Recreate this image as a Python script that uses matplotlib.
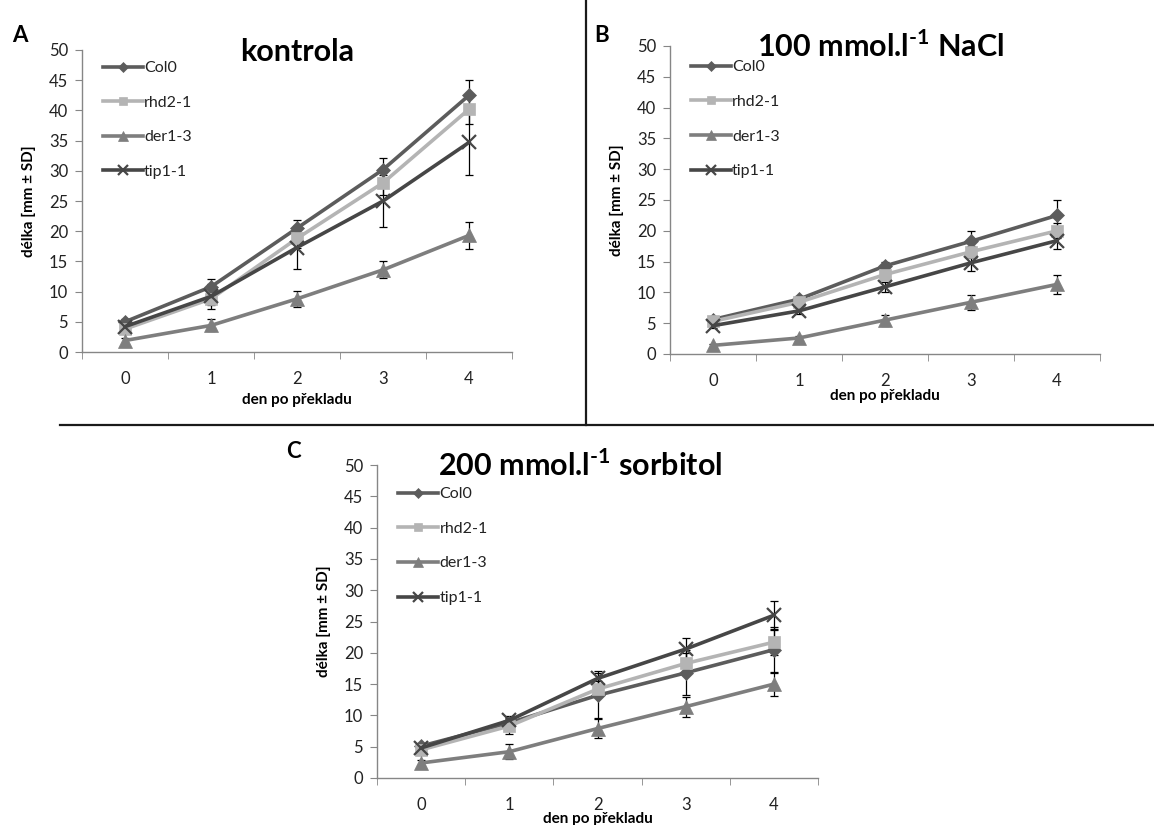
import matplotlib
matplotlib.use("Agg")
import matplotlib.pyplot as plt
import numpy as np

plt.rcParams['font.family'] = ['Lato', 'DejaVu Sans']
plt.rcParams['mathtext.fontset'] = 'custom'
plt.rcParams['mathtext.rm'] = 'Lato:bold'
plt.rcParams['mathtext.bf'] = 'Lato:bold'

days = [0, 1, 2, 3, 4]
day_labels = ['0', '1', '2', '3', '4']
series_names = ['Col0', 'rhd2-1', 'der1-3', 'tip1-1']

# kontrola
a_col0 = [5.0, 10.8, 20.5, 30.2, 42.5]
a_col0_sd = [0.5, 1.3, 1.4, 2.0, 2.6]
a_rhd2 = [3.8, 8.8, 18.8, 28.0, 40.2]
a_rhd2_sd = [0.5, 1.0, 1.5, 2.0, 2.5]
a_der1 = [1.9, 4.4, 8.8, 13.6, 19.3]
a_der1_sd = [0.5, 1.0, 1.3, 1.4, 2.3]
a_tip1 = [4.2, 9.2, 17.3, 25.0, 34.7]
a_tip1_sd = [0.5, 2.1, 3.6, 4.3, 5.4]

# 100 mmol NaCl
b_col0 = [5.6, 8.9, 14.3, 18.3, 22.5]
b_col0_sd = [0.4, 0.5, 0.7, 1.7, 2.5]
b_rhd2 = [5.3, 8.4, 12.9, 16.6, 20.0]
b_rhd2_sd = [0.4, 0.5, 0.8, 1.0, 1.2]
b_der1 = [1.4, 2.6, 5.5, 8.4, 11.3]
b_der1_sd = [0.3, 0.4, 0.9, 1.2, 1.5]
b_tip1 = [4.6, 7.0, 10.9, 14.8, 18.4]
b_tip1_sd = [0.3, 0.5, 0.8, 1.3, 1.3]

# 200 mmol sorbitol
c_col0 = [5.1, 8.8, 13.2, 16.8, 20.5]
c_col0_sd = [0.5, 0.8, 3.6, 3.6, 3.7]
c_rhd2 = [4.5, 8.3, 14.2, 18.3, 21.7]
c_rhd2_sd = [0.4, 1.2, 1.3, 1.7, 2.0]
c_der1 = [2.4, 4.2, 7.9, 11.4, 15.0]
c_der1_sd = [0.4, 1.2, 1.5, 1.6, 1.9]
c_tip1 = [4.8, 9.2, 15.9, 20.6, 26.0]
c_tip1_sd = [0.5, 0.7, 1.2, 1.7, 2.2]

colors = ['#5c5c5c', '#b4b4b4', '#7e7e7e', '#464646']
markers = ['D', 's', '^', 'x']
msizes = [7, 8, 9.5, 10]

W, H = 1154, 825
fig = plt.figure(figsize=(W / 100, H / 100), dpi=100)


def px_axes(x0, y0, x1, y1):
    return fig.add_axes([x0 / W, 1 - y1 / H, (x1 - x0) / W, (y1 - y0) / H])


def draw_panel(ax, data, title, title_x, letter, letter_xy, xlabelpad, leg_top):
    for (vals, sd), name, c, m, ms in zip(data, series_names, colors, markers, msizes):
        ax.errorbar(days, vals, yerr=sd, fmt='none', ecolor='black',
                    elinewidth=0.9, capsize=3, capthick=0.9, zorder=1.5)
        mew = 1.6 if m == 'x' else 0.5
        ax.plot(days, vals, color=c, lw=2.6, marker=m, ms=ms,
                markeredgewidth=mew, markeredgecolor=c, label=name, zorder=2)
    ax.set_xlim(-0.5, 4.5)
    ax.set_ylim(0, 50)
    ax.set_yticks(np.arange(0, 51, 5))
    ax.set_xticks(days)
    ax.set_xticklabels(day_labels)
    ax.set_xticks(np.arange(-0.5, 4.6, 1), minor=True)
    ax.tick_params(axis='x', which='major', length=0, pad=14, labelsize=12, labelcolor='#222222')
    ax.tick_params(axis='x', which='minor', length=5, direction='out', color='#868686')
    ax.tick_params(axis='y', length=5, direction='out', color='#868686', labelsize=12,
                   labelcolor='#222222', pad=5)
    for s in ['top', 'right']:
        ax.spines[s].set_visible(False)
    for s in ['left', 'bottom']:
        ax.spines[s].set_color('#868686')
        ax.spines[s].set_linewidth(1.0)
    ax.set_ylabel('délka [mm ± SD]', fontsize=11, fontweight='bold', labelpad=9)
    ax.set_xlabel('den po překladu', fontsize=11, fontweight='bold', labelpad=xlabelpad)
    ax.set_title(title, fontsize=22, fontweight='bold', pad=-8, x=title_x, y=1.0)
    leg = ax.legend(loc='upper left', frameon=False, fontsize=11.5, handlelength=2.5,
                    handletextpad=0.1, labelspacing=1.28, markerscale=0.75,
                    bbox_to_anchor=(0.033, leg_top), borderaxespad=0.0)
    for t in leg.get_texts():
        t.set_color('#222222')
    fig.text(letter_xy[0] / W, 1 - letter_xy[1] / H, letter, fontsize=16,
             fontweight='bold', ha='left', va='center')


axA = px_axes(82, 50, 512, 352)
draw_panel(axA, [(a_col0, a_col0_sd), (a_rhd2, a_rhd2_sd), (a_der1, a_der1_sd), (a_tip1, a_tip1_sd)],
           'kontrola', 0.5, 'A', (12, 35), 4, 0.985)
axB = px_axes(670, 46, 1100, 354)
draw_panel(axB, [(b_col0, b_col0_sd), (b_rhd2, b_rhd2_sd), (b_der1, b_der1_sd), (b_tip1, b_tip1_sd)],
           r'100 mmol.l$^{\text{-1}}$ NaCl', 0.49, 'B', (594, 35), 0, 0.975)
axC = px_axes(377, 465, 818, 778)
draw_panel(axC, [(c_col0, c_col0_sd), (c_rhd2, c_rhd2_sd), (c_der1, c_der1_sd), (c_tip1, c_tip1_sd)],
           r'200 mmol.l$^{\text{-1}}$ sorbitol', 0.46, 'C', (286, 452), -1, 0.95)

# divider lines
fig.add_artist(plt.Line2D([586 / W, 586 / W], [1, 1 - 425 / H], color='#1a1a1a', lw=1.6))
fig.add_artist(plt.Line2D([60 / W, 1], [1 - 425 / H, 1 - 425 / H], color='#1a1a1a', lw=1.6))

fig.savefig('out.png', dpi=100, facecolor='white')
